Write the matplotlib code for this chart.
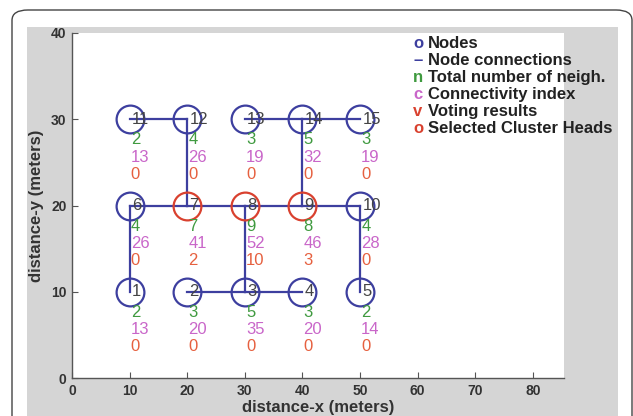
import matplotlib
matplotlib.use("Agg")
import matplotlib.pyplot as plt
from matplotlib.patches import FancyBboxPatch, Rectangle

# node grid: ids 1..15, row by row from the bottom
node_ids = list(range(1, 16))
node_x = [10, 20, 30, 40, 50] * 3
node_y = [10] * 5 + [20] * 5 + [30] * 5
neighbours = [2, 3, 5, 3, 2, 4, 7, 9, 8, 4, 2, 4, 3, 5, 3]
connectivity = [13, 20, 35, 20, 14, 26, 41, 52, 46, 28, 13, 26, 19, 32, 19]
votes = [0, 0, 0, 0, 0, 0, 2, 10, 3, 0, 0, 0, 0, 0, 0]
cluster_heads = [7, 8, 9]

# node connections as (from, to) pairs
edges = [(11, 12), (12, 7), (13, 14), (14, 15), (14, 9),
         (6, 7), (7, 8), (8, 9), (9, 10),
         (6, 1), (8, 3), (10, 5), (2, 3), (3, 4)]

legend_marks = ["o", "\u2013", "n", "c", "v", "o"]
legend_texts = ["Nodes", "Node connections", "Total number of neigh.",
                "Connectivity index", "Voting results", "Selected Cluster Heads"]

blue = "#3d3f9f"
red = "#d9412f"
green = "#3f9a3f"
pink = "#c966c9"
orange = "#e6603f"
legend_cols = [blue, blue, green, pink, red, red]

narrow = ["Liberation Sans Narrow", "Liberation Sans", "DejaVu Sans"]
plt.rcParams["font.family"] = ["Liberation Sans", "DejaVu Sans"]

W, H = 633, 416
fig = plt.figure(figsize=(W / 100, H / 100), dpi=100)
fig.patch.set_facecolor("white")

# journal frame and grey matlab background
frame = FancyBboxPatch((12 / W, -0.2), 620 / W, 1.2 - 10 / H,
                       boxstyle="round,pad=0,rounding_size=0.025",
                       transform=fig.transFigure, fill=False,
                       edgecolor="#444444", linewidth=1.0)
fig.patches.append(frame)
fig.patches.append(Rectangle((27 / W, 0), 591 / W, 1 - 27 / H,
                             transform=fig.transFigure,
                             facecolor="#d5d5d5", edgecolor="none", zorder=-1))

ax = fig.add_axes([72 / W, 1 - 378 / H, 492 / W, 345 / H])
ax.set_facecolor("white")
ax.set_xlim(0, 85.4)
ax.set_ylim(0, 40)

pos = dict(zip(node_ids, zip(node_x, node_y)))
for a, b in edges:
    ax.plot([pos[a][0], pos[b][0]], [pos[a][1], pos[b][1]],
            color=blue, linewidth=1.6, zorder=2)

for i, n in enumerate(node_ids):
    x, y = node_x[i], node_y[i]
    col = red if n in cluster_heads else blue
    ax.plot(x, y, "o", markersize=20, markerfacecolor="none",
            markeredgecolor=col, markeredgewidth=1.6, zorder=3)
    ax.text(x + 0.4, y, str(n), fontsize=12, color="#444444",
            ha="left", va="center", family=narrow, zorder=4)
    ax.text(x + 0.2, y - 2.4, str(neighbours[i]), fontsize=12, color=green,
            ha="left", va="center", family=narrow)
    ax.text(x + 0.2, y - 4.4, str(connectivity[i]), fontsize=12, color=pink,
            ha="left", va="center", family=narrow)
    ax.text(x + 0.2, y - 6.4, str(votes[i]), fontsize=12, color=orange,
            ha="left", va="center", family=narrow)

# text legend, outside the axes box on the right
for i, (m, t, c) in enumerate(zip(legend_marks, legend_texts, legend_cols)):
    yy = 38.8 - 1.98 * i
    ax.text(59.2, yy, m, color=c, fontsize=12, fontweight="bold",
            ha="left", va="center", clip_on=False)
    ax.text(61.8, yy, t, color="#222222", fontsize=12, fontweight="bold",
            ha="left", va="center", clip_on=False)

for s in ["top", "right"]:
    ax.spines[s].set_visible(False)
for s in ["left", "bottom"]:
    ax.spines[s].set_color("#555555")
    ax.spines[s].set_linewidth(1.0)

ax.set_xticks(range(0, 81, 10))
ax.set_yticks(range(0, 41, 10))
ax.tick_params(direction="in", length=4, width=0.8, color="#555555",
               labelsize=10, labelcolor="#333333", pad=4)
for lab in ax.get_xticklabels() + ax.get_yticklabels():
    lab.set_fontweight("bold")

ax.set_xlabel("distance-x (meters)", fontsize=12, fontweight="bold",
              color="#333333", labelpad=2)
ax.set_ylabel("distance-y (meters)", fontsize=12, fontweight="bold",
              color="#333333", labelpad=5)

fig.savefig("out.png", dpi=100)
